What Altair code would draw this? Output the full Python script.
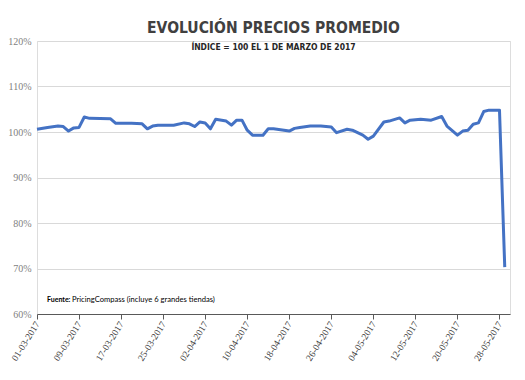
import altair as alt
import pandas as pd

# Day offsets from 01-03-2017 and index values (%)
day_offsets = [0, 2, 4, 5, 6, 7, 8, 9, 10, 14, 15, 18, 20, 21, 22, 23, 26, 28, 29, 30,
               31, 32, 33, 34, 36, 37, 38, 39, 40, 41, 43, 44, 45, 47, 48, 49, 50, 52,
               54, 56, 57, 59, 60, 62, 63, 64, 66, 67, 69, 70, 71, 73, 75, 77, 78, 80,
               81, 82, 83, 84, 85, 86, 88, 89]
values = [100.6, 101.0, 101.3, 101.2, 100.2, 100.9, 101.0, 103.3, 103.0, 102.9, 101.9,
          101.9, 101.8, 100.7, 101.3, 101.5, 101.5, 102.0, 101.8, 101.2, 102.2, 102.0,
          100.7, 102.8, 102.4, 101.5, 102.6, 102.6, 100.4, 99.3, 99.3, 100.7, 100.7,
          100.4, 100.2, 100.8, 101.0, 101.3, 101.3, 101.1, 99.85, 100.6, 100.4, 99.3,
          98.4, 99.1, 102.2, 102.4, 103.1, 102.0, 102.6, 102.8, 102.6, 103.4, 101.3,
          99.3, 100.2, 100.4, 101.7, 102.0, 104.5, 104.8, 104.8, 70.3]

tick_dates = ["2017-03-01", "2017-03-09", "2017-03-17", "2017-03-25", "2017-04-02",
              "2017-04-10", "2017-04-18", "2017-04-26", "2017-05-04", "2017-05-12",
              "2017-05-20", "2017-05-28"]
y_ticks = [60, 70, 80, 90, 100, 110, 120]

title_text = "EVOLUCIÓN PRECIOS PROMEDIO"
subtitle_text = "ÍNDICE = 100  EL 1 DE MARZO DE 2017"
source_bold = "Fuente:"
source_rest = "PricingCompass  (incluye  6 grandes  tiendas)"

start = pd.Timestamp("2017-03-01")
df = pd.DataFrame({
    "fecha": [(start + pd.Timedelta(days=d)).strftime("%Y-%m-%d") for d in day_offsets],
    "valor": values,
})

COND = "Liberation Sans Narrow"
TITLE_FONT = "'DejaVu Sans Condensed', 'Liberation Sans Narrow', 'DejaVu Sans', sans-serif"

x_enc = alt.X(
    "fecha:T",
    scale=alt.Scale(domain=["2017-03-01", "2017-05-30"]),
    axis=alt.Axis(
        values=[pd.Timestamp(d).isoformat() for d in tick_dates],
        format="%d-%m-%Y", labelAngle=-58, labelFont=COND, labelFontSize=9.5,
        labelAlign="right", labelBaseline="middle",
        labelColor="#404040", domainColor="#595959", tickColor="#595959",
        tickSize=5, grid=False, title=None, labelPadding=3,
    ),
)
y_enc = alt.Y(
    "valor:Q",
    scale=alt.Scale(domain=[60, 120], nice=False, zero=False),
    axis=alt.Axis(
        values=y_ticks, labelExpr="datum.value + '%'", labelFont=COND,
        labelFontSize=10, labelColor="#7f7f7f", domain=False, ticks=False,
        gridColor="#d9d9d9", gridWidth=1, title=None, labelPadding=6,
    ),
)

line = alt.Chart(df).mark_line(color="#4472C4", strokeWidth=3, strokeJoin="round").encode(
    x=x_enc, y=y_enc
)

src1 = alt.Chart(pd.DataFrame({"t": [source_bold]})).mark_text(
    align="left", baseline="middle", font="Lato", fontSize=7, fontWeight="bold",
    color="#000000",
).encode(x=alt.value(10), y=alt.value(259), text="t:N")
src2 = alt.Chart(pd.DataFrame({"t": [source_rest]})).mark_text(
    align="left", baseline="middle", font="Lato", fontSize=7.6, color="#000000",
).encode(x=alt.value(35), y=alt.value(259), text="t:N")

chart = alt.layer(line, src1, src2).properties(
    width=473, height=273,
    title=alt.TitleParams(
        text=title_text, subtitle=subtitle_text, anchor="middle",
        font=TITLE_FONT, fontSize=15.5, fontWeight="bold", color="#404040",
        subtitleFont=TITLE_FONT, subtitleFontSize=8.5, subtitleFontWeight="bold",
        subtitleColor="#262626", subtitlePadding=6, offset=-15,
    ),
    autosize=alt.AutoSizeParams(type="none"),
    padding={"left": 29, "top": 33, "right": 7, "bottom": 60},
).configure_view(stroke=None).configure(background="#ffffff")

chart.save("out.html", embed_options={"renderer": "svg", "actions": False})
